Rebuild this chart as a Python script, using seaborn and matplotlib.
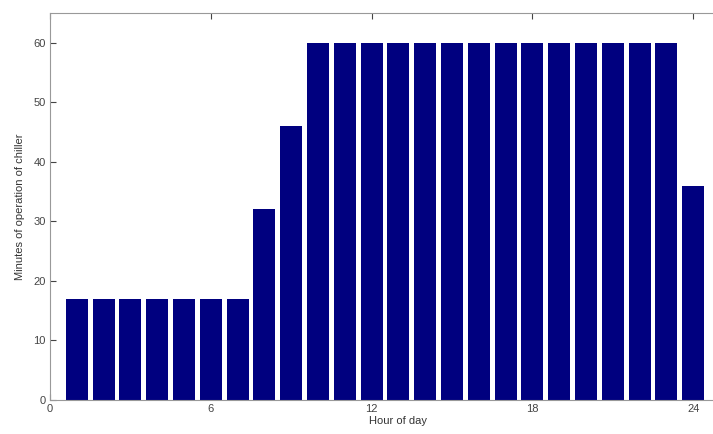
import pandas as pd
import seaborn as sns
import matplotlib.pyplot as plt

hours = list(range(1, 25))
minutes = [17, 17, 17, 17, 17, 17, 17, 32, 46, 60, 60, 60, 60, 60, 60, 60,
           60, 60, 60, 60, 60, 60, 60, 36]
xticks = [0, 6, 12, 18, 24]
yticks = [0, 10, 20, 30, 40, 50, 60]

df = pd.DataFrame({'Hour': hours, 'Minutes': minutes})

sns.set_style('white')
plt.rcParams['font.family'] = ['Liberation Sans', 'DejaVu Sans']

fig = plt.figure(figsize=(7.13, 4.34), dpi=100)
# axes run past the right edge of the figure, as in the cropped original
ax = fig.add_axes([50 / 713, 34 / 434, 26 * 26.8 / 713, 387 / 434])

sns.barplot(data=df, x='Hour', y='Minutes', native_scale=True, width=0.82,
            color='#00007f', saturation=1, ax=ax, linewidth=0)

ax.set_xlim(0, 26)
ax.set_ylim(0, 65)
ax.set_xticks(xticks)
ax.set_yticks(yticks)
ax.tick_params(direction='in', length=4, labelsize=8, colors='#444444',
               top=True, right=True, bottom=True, left=True, pad=3)
for s in ax.spines.values():
    s.set_visible(True)
    s.set_color('#999999')
    s.set_linewidth(0.8)
ax.spines['right'].set_visible(False)
ax.set_xlabel('Hour of day', fontsize=8, color='#333333', labelpad=1)
ax.set_ylabel('Minutes of operation of chiller', fontsize=8, color='#333333', labelpad=6)

fig.savefig('out.png', dpi=100)
